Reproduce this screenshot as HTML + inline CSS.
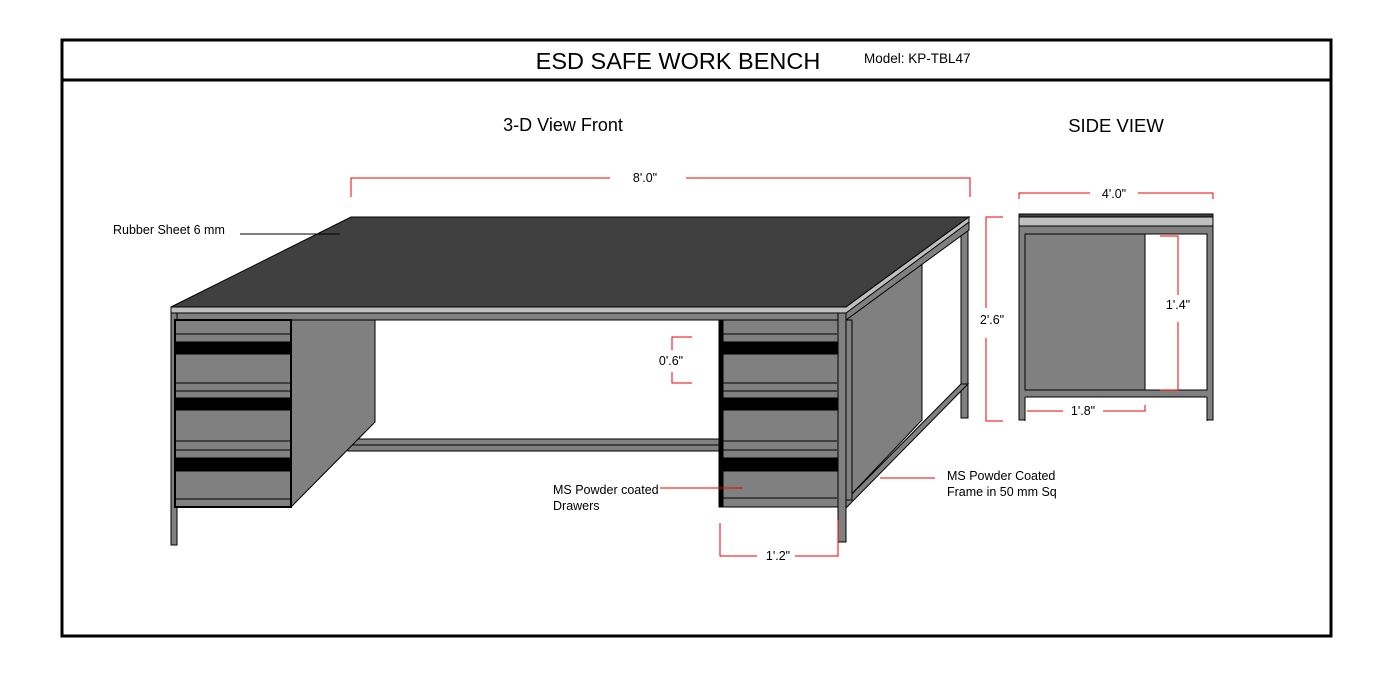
<!DOCTYPE html><html><head><meta charset="utf-8"><style>body{margin:0;background:#fff}svg{display:block}text{font-family:"Liberation Sans",Arial,sans-serif;fill:#000}</style></head><body>
<svg width="1382" height="677" viewBox="0 0 1382 677" xmlns="http://www.w3.org/2000/svg">
<rect x="62" y="40" width="1269" height="596" fill="none" stroke="#000" stroke-width="3"/>
<line x1="62" y1="80" x2="1331" y2="80" stroke="#000" stroke-width="3"/>
<text x="678" y="69" font-size="23.5" text-anchor="middle">ESD SAFE WORK BENCH</text>
<text x="864" y="63" font-size="13.5">Model: KP-TBL47</text>
<text x="563" y="131" font-size="18" text-anchor="middle">3-D View Front</text>
<text x="1116" y="132" font-size="18.5" text-anchor="middle">SIDE VIEW</text>
<g stroke="#000" stroke-width="1">
<rect x="961" y="225" width="7" height="193" fill="#808080"/>
<polygon points="846,320 922,263 922,420 846,500" fill="#808080"/>
<polygon points="846,500 961,384 968,384 846,508" fill="#808080"/>
<polygon points="846,310 969,222 969,230 846,320" fill="#808080"/>
<polygon points="351,217 969,217 846,307 171,307" fill="#404040"/>
<polygon points="171,307 846,307 969,217 969,222 846,313 171,313" fill="#c0c0c0"/>
<rect x="171" y="313" width="675" height="7" fill="#808080"/>
<rect x="348" y="439" width="372" height="12" fill="#808080"/>
<line x1="348" y1="445" x2="720" y2="445"/>
<rect x="171" y="313" width="6" height="232" fill="#808080"/>
<polygon points="291,320 375,320 375,422 291,507" fill="#808080"/>
<rect x="175" y="320" width="116" height="187" fill="#808080" stroke-width="2"/>
<rect x="721" y="320" width="117" height="187" fill="#808080" stroke-width="1"/>
<rect x="719" y="321" width="4" height="186" fill="#000"/>
<rect x="838" y="313" width="8" height="229" fill="#808080"/>
<polygon points="846,313 846,320 852,320 852,500 846,500" fill="#808080"/>
</g>
<g fill="#000" stroke="#000">
<rect x="176" y="342" width="114" height="12"/><rect x="176" y="398" width="114" height="12"/><rect x="176" y="458" width="114" height="13"/>
<rect x="722" y="342" width="115" height="12"/><rect x="722" y="398" width="115" height="12"/><rect x="722" y="458" width="115" height="13"/>
</g>
<g stroke="#000" stroke-width="1">
<line x1="176" y1="334" x2="290" y2="334"/><line x1="176" y1="383" x2="290" y2="383"/><line x1="176" y1="391" x2="290" y2="391"/><line x1="176" y1="441" x2="290" y2="441"/><line x1="176" y1="450" x2="290" y2="450"/><line x1="176" y1="499" x2="290" y2="499"/>
<line x1="722" y1="334" x2="837" y2="334"/><line x1="722" y1="383" x2="837" y2="383"/><line x1="722" y1="391" x2="837" y2="391"/><line x1="722" y1="441" x2="837" y2="441"/><line x1="722" y1="450" x2="837" y2="450"/><line x1="722" y1="498" x2="837" y2="498"/>
<line x1="240" y1="234" x2="340" y2="234"/>
</g>
<g stroke="#000" stroke-width="1">
<rect x="1019" y="225" width="194" height="195" fill="#808080"/>
<rect x="1019" y="214" width="194" height="3" fill="#404040"/>
<rect x="1019" y="217" width="194" height="9" fill="#c0c0c0"/>
<rect x="1025" y="234" width="182" height="156" fill="#fff"/>
<rect x="1025" y="234" width="120" height="156" fill="#808080"/>
<rect x="1025" y="397" width="182" height="24" fill="#fff" stroke="none"/>
<line x1="1025" y1="397" x2="1207" y2="397"/><line x1="1025" y1="397" x2="1025" y2="421"/><line x1="1207" y1="397" x2="1207" y2="421"/>
</g>
<g stroke="#e00" stroke-width="1" fill="none">
<path d="M351,197 V178 H610 M686,178 H970 V197"/>
<path d="M1019,199 V193 H1090 M1138,193 H1213 V199"/>
<path d="M1003,217 H986 V308 M986,338 V421 H1003"/>
<path d="M1160,236 H1178 V295 M1178,322 V390 H1160"/>
<path d="M1027,411 H1063 M1103,411 H1145 V405"/>
<path d="M692,337 H672 V350 M672,372 V383 H692"/>
<path d="M720,523 V556 H757 M795,556 H838 V520"/>
<path d="M880,478 H935"/>
<path d="M660,488 H743"/>
</g>
<g font-size="12.5">
<text x="645" y="182" text-anchor="middle">8'.0"</text>
<text x="1114" y="198" text-anchor="middle">4'.0"</text>
<text x="992" y="324" text-anchor="middle">2'.6"</text>
<text x="1178" y="309" text-anchor="middle">1'.4"</text>
<text x="1083" y="415" text-anchor="middle">1'.8"</text>
<text x="671" y="365" text-anchor="middle">0'.6"</text>
<text x="778" y="560" text-anchor="middle">1'.2"</text>
<text x="113" y="234">Rubber Sheet 6 mm</text>
<text x="553" y="494">MS Powder coated</text>
<text x="553" y="510">Drawers</text>
<text x="947" y="480">MS Powder Coated</text>
<text x="947" y="496">Frame in 50 mm Sq</text>
</g>
</svg></body></html>
